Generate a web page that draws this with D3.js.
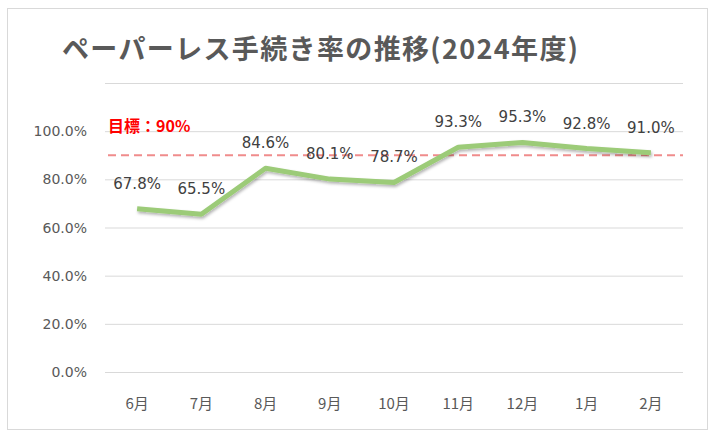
<!DOCTYPE html>
<html><head><meta charset="utf-8">
<script src="https://cdn.jsdelivr.net/npm/d3@7"></script>
<style>body{margin:0;background:#fff}</style></head>
<body><svg id="c" width="715" height="438"></svg>
<script>
const months=["6月","7月","8月","9月","10月","11月","12月","1月","2月"];
const rates=[67.8,65.5,84.6,80.1,78.7,93.3,95.3,92.8,91.0];
const yTicks=[0,20,40,60,80,100,120];
const target=90;
const svg=d3.select("#c");
const font="'Noto Sans CJK JP','Noto Sans',sans-serif";
const nfont="'DejaVu Sans','Noto Sans CJK JP',sans-serif";
svg.append("rect").attr("x",7.5).attr("y",8.5).attr("width",700).attr("height",421).attr("fill","#fff").attr("stroke","#d9d9d9");
svg.append("text").attr("x",62).attr("y",59).attr("font-family",font).attr("font-weight","bold").attr("font-size",27).attr("fill","#595959").attr("textLength",516).text("ペーパーレス手続き率の推移(2024年度)");
const x=d3.scaleBand().domain(months).range([105,683]);
const y=d3.scaleLinear().domain([0,120]).range([372,83]);
const defs=svg.append("defs");
const f=defs.append("filter").attr("id","sh").attr("x","-10%").attr("y","-10%").attr("width","120%").attr("height","130%");
f.append("feDropShadow").attr("dx",1).attr("dy",2).attr("stdDeviation",1.5).attr("flood-color","#000").attr("flood-opacity",0.3);
svg.append("g").selectAll("line").data(yTicks).join("line").attr("x1",105).attr("x2",683).attr("y1",d=>y(d)+0.5).attr("y2",d=>y(d)+0.5).attr("stroke","#d9d9d9");
svg.append("g").selectAll("text").data(yTicks.filter(d=>d<=100)).join("text").attr("x",87).attr("y",d=>y(d)+5).attr("text-anchor","end").attr("font-family",nfont).attr("font-size",14).attr("fill","#595959").text(d=>d.toFixed(1)+"%");
svg.append("g").selectAll("text").data(months).join("text").attr("x",d=>x(d)+x.bandwidth()/2).attr("y",409).attr("text-anchor","middle").attr("font-family",font).attr("font-size",15).attr("fill","#595959").text(d=>d);
svg.append("line").attr("x1",108).attr("x2",683).attr("y1",y(target)).attr("y2",y(target)).attr("stroke","#f08c8c").attr("stroke-width",2).attr("stroke-dasharray","8,5");
svg.append("text").attr("x",108).attr("y",132).attr("font-family",font).attr("font-weight","bold").attr("font-size",16).attr("fill","#ff0000").text("目標：90%");
const line=d3.line().x((d,i)=>x(months[i])+x.bandwidth()/2).y(d=>y(d));
svg.append("path").datum(rates).attr("d",line).attr("fill","none").attr("stroke","#9ccb78").attr("stroke-width",5).attr("stroke-linejoin","round").attr("filter","url(#sh)");
svg.append("g").selectAll("text").data(rates).join("text").attr("x",(d,i)=>x(months[i])+x.bandwidth()/2).attr("y",d=>y(d)-20).attr("text-anchor","middle").attr("font-family",nfont).attr("font-size",15).attr("fill","#404040").text(d=>d.toFixed(1)+"%");
</script></body></html>
